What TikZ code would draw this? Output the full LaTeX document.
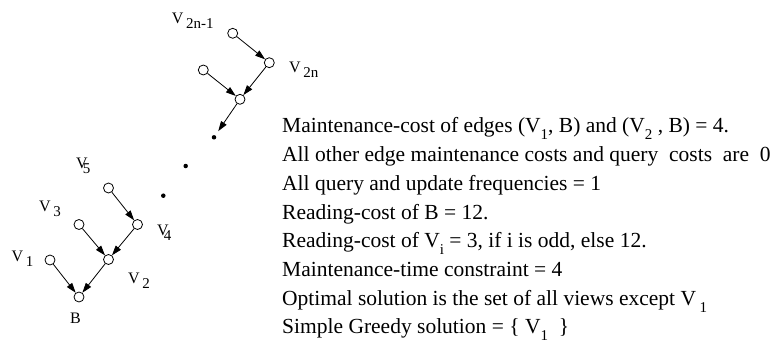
\documentclass[tikz,border=0pt]{standalone}
\usepackage{fontspec}
\setmainfont{Liberation Serif}
\usetikzlibrary{arrows.meta}

% lowered indices, one for the text lines, one for the view labels
\newcommand{\tsub}[1]{\raisebox{-7pt}{\fontsize{15}{15}\selectfont #1}}
\newcommand{\lsub}[1]{\raisebox{-5pt}{\fontsize{15}{15}\selectfont #1}}

\begin{document}
\begin{tikzpicture}[
  x=1pt, y=-1pt,
  >={Triangle[length=10pt,width=6.5pt]},
  view/.style={draw, circle, minimum size=10pt, inner sep=0pt, line width=0.8pt},
  ellip/.style={fill, circle, minimum size=4.5pt, inner sep=0pt},
  lab/.style={anchor=base west, inner sep=0pt, font=\fontsize{16}{16}\selectfont},
  txt/.style={anchor=base west, inner sep=0pt, font=\fontsize{21.5}{26}\selectfont},
  arr/.style={->, line width=0.8pt}
]
\useasboundingbox (0,0) rectangle (780,343);

% lower tree
\node[view] (b) at (79,297) {};
\node[view] (v1) at (50,260) {};
\node[view] (v2) at (108.5,259.5) {};
\node[view] (v3) at (79,224.5) {};
\node[view] (v4) at (137.5,224.5) {};
\node[view] (v5) at (108.5,188) {};

% upper tree
\node[view] (v2nm1) at (232.7,33.3) {};
\node[view] (v2n) at (269.3,62.7) {};
\node[view] (vx) at (203.3,70) {};
\node[view] (vm) at (240,99.3) {};

% dots in between
\node[ellip] (d1) at (214,137.3) {};
\node[ellip] (d2) at (185.7,166) {};
\node[ellip] (d3) at (163.3,195.7) {};

% labels
\node[lab] (lv1) at (11.5,261.5) {V\,\lsub{1}};
\node[lab] (lv3) at (39,211.5) {V\,\lsub{3}};
\node[lab] (lv5) at (76,168) {V\kern-5pt\lsub{5}};
\node[lab] (lv4) at (157,235) {V\kern-5pt\lsub{4}};
\node[lab] (lv2) at (128,283) {V\,\lsub{2}};
\node[lab] (lb) at (70,323) {B};
\node[lab] (lv2nm1) at (171.7,23) {V\,\lsub{2n-1}};
\node[lab] (lv2n) at (289,72) {V\,\lsub{2n}};

\draw[arr] (v1) -- (b);
\draw[arr] (v2) -- (b);
\draw[arr] (v3) -- (v2);
\draw[arr] (v4) -- (v2);
\draw[arr] (v5) -- (v4);
\draw[arr] (v2nm1) -- (v2n);
\draw[arr] (vx) -- (vm);
\draw[arr] (v2n) -- (vm);
\draw[arr, shorten >=5pt] (vm) -- (d1);

% problem data
\node[txt] (t1) at (282,132.7) {Maintenance-cost of edges (V\tsub{1}, B) and (V\tsub{2} , B) = 4.};
\node[txt] (t2) at (282,161.5) {All other edge maintenance costs and query\ \ costs\ \ are\ \ 0};
\node[txt] (t3) at (282,190.3) {All query and update frequencies = 1};
\node[txt] (t4) at (282,219.1) {Reading-cost of B = 12.};
\node[txt] (t5) at (282,247.9) {Reading-cost of V\tsub{i} = 3, if i is odd, else 12.};
\node[txt] (t6) at (282,276.7) {Maintenance-time constraint = 4};
\node[txt] (t7) at (282,305.5) {Optimal solution is the set of all views except V\,\tsub{1}};
\node[txt] (t8) at (282,333.5) {Simple Greedy solution = \{ V\tsub{1}\ \ \}};
\end{tikzpicture}
\end{document}
